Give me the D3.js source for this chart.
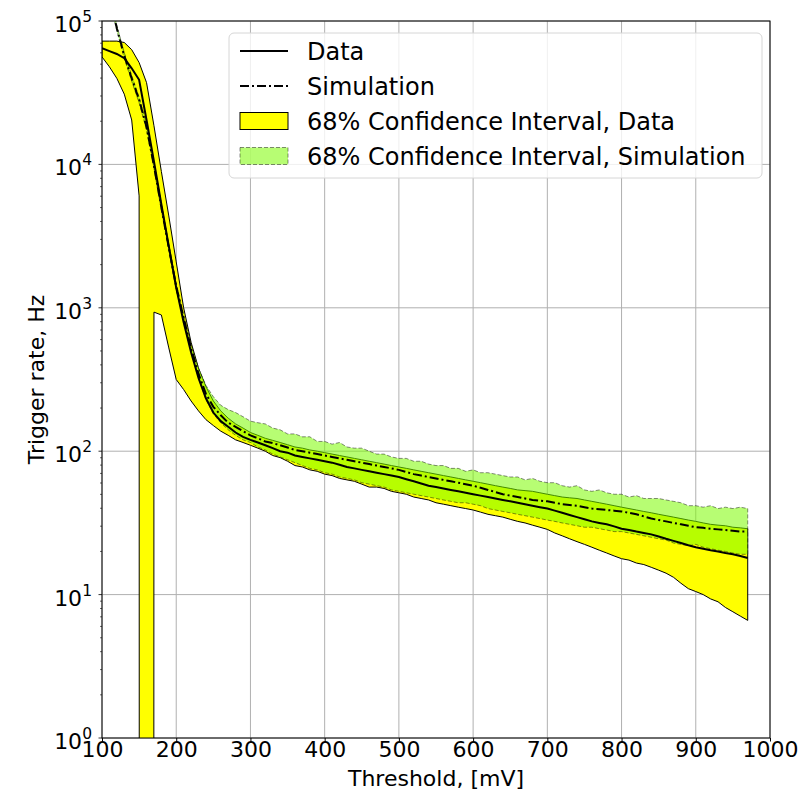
<!DOCTYPE html>
<html>
<head>
<meta charset="utf-8">
<script src="https://cdn.jsdelivr.net/npm/d3@7"></script>
<style>
  body { margin: 0; background: #fff; }
  svg text { font-family: "DejaVu Sans", sans-serif; fill: #000; }
</style>
</head>
<body>
<div id="chart"></div>
<script>
// threshold in mV
const thresholds = [
  100, 110, 120, 130, 140, 150, 160, 170, 180, 190,
  200, 210, 220, 230, 240, 250, 260, 270, 280, 290,
  300, 310, 320, 330, 340, 350, 360, 370, 380, 390,
  400, 410, 420, 430, 440, 450, 460, 470, 480, 490,
  500, 510, 520, 530, 540, 550, 560, 570, 580, 590,
  600, 610, 620, 630, 640, 650, 660, 670, 680, 690,
  700, 710, 720, 730, 740, 750, 760, 770, 780, 790,
  800, 810, 820, 830, 840, 850, 860, 870, 880, 890,
  900, 910, 920, 930, 940, 950, 960, 970
];

// trigger rate, Hz
const rateData = [
  64600, 61700, 58900, 55000, 46800, 38900, 20400, 10500, 5250, 2690,
  1380, 794, 490, 324, 234, 186, 162, 148, 135, 126,
  120, 115, 110, 105, 100, 97.7, 93.3, 91.2, 89.1, 87.1,
  85.1, 83.2, 80.4, 77.6, 75.9, 74.1, 72.4, 70.8, 69.2, 67.6,
  66.1, 63.8, 61.7, 59.6, 57.5, 56.2, 55.0, 53.7, 52.5, 51.3,
  50.1, 49.0, 47.9, 46.8, 45.7, 44.7, 43.7, 42.7, 41.7, 40.7,
  39.8, 38.5, 37.2, 35.9, 34.7, 33.5, 32.4, 31.6, 30.9, 29.9,
  28.8, 28.2, 27.5, 26.9, 26.3, 25.4, 24.5, 23.7, 22.9, 22.1,
  21.4, 20.9, 20.4, 20.0, 19.5, 19.1, 18.6, 18.0
];

const rateSim = [
  282000, 148000, 89100, 57500, 39800, 28200, 18200, 9770, 5010, 2630,
  1410, 851, 525, 347, 251, 204, 178, 158, 148, 138,
  129, 123, 117, 114, 110, 106, 102, 100, 97.7, 95.5,
  93.3, 91.2, 89.1, 87.1, 85.1, 83.2, 81.3, 79.4, 77.6, 75.9,
  74.1, 71.6, 69.2, 67.6, 66.1, 64.6, 63.1, 61.7, 60.3, 58.9,
  57.5, 55.6, 53.7, 51.9, 50.1, 49.0, 47.9, 46.8, 45.7, 45.2,
  44.7, 43.7, 42.7, 42.2, 41.7, 40.7, 39.8, 39.4, 38.9, 38.5,
  38.0, 37.2, 36.3, 35.1, 33.9, 33.1, 32.4, 31.6, 30.9, 30.2,
  29.5, 29.2, 28.8, 28.5, 28.2, 27.9, 27.5, 27.5
];

// 68% interval, data
const dataHigh = [
  72400, 72400, 72400, 70800, 63100, 51300, 37200, 18600, 8910, 4370,
  2090, 1000, 575, 380, 282, 224, 191, 170, 155, 145,
  135, 129, 123, 119, 115, 111, 107, 105, 102, 100,
  97.7, 95.5, 93.3, 91.2, 89.1, 87.1, 85.1, 83.2, 81.3, 79.4,
  77.6, 75.9, 74.1, 72.4, 70.8, 69.2, 67.6, 66.1, 64.6, 63.1,
  61.7, 60.3, 58.9, 57.5, 56.2, 55.0, 53.7, 53.1, 52.5, 51.3,
  50.1, 49.0, 47.9, 47.3, 46.8, 45.7, 44.7, 43.7, 42.7, 41.7,
  40.7, 39.8, 38.9, 38.0, 37.2, 36.3, 35.5, 34.7, 33.9, 33.1,
  32.4, 31.6, 30.9, 30.5, 30.2, 29.5, 29.2, 28.8
];

const dataLow = [
  56200, 47900, 39800, 30900, 20400, 6030, 0, 933, 891, 525,
  316, 269, 224, 191, 166, 151, 138, 129, 120, 115,
  110, 105, 100, 93.3, 90.2, 85.1, 79.4, 77.6, 74.1, 72.4,
  69.2, 67.6, 64.6, 63.1, 61.7, 58.9, 56.2, 56.2, 55.0, 52.5,
  51.3, 50.1, 47.9, 46.8, 45.7, 43.7, 42.7, 41.7, 40.7, 39.8,
  38.9, 37.6, 36.3, 35.5, 34.7, 33.5, 32.4, 31.6, 30.5, 29.5,
  28.5, 26.9, 25.7, 24.5, 23.4, 22.4, 21.4, 20.4, 19.5, 18.6,
  17.8, 17.4, 16.6, 16.2, 15.5, 14.8, 14.1, 13.2, 12.0, 11.0,
  10.5, 10.0, 9.33, 8.91, 8.13, 7.59, 7.08, 6.61
];

// 68% interval, simulation
const simHigh = [
  295000, 155000, 93300, 60200, 41700, 29500, 19100, 10200, 5250, 2750,
  1480, 891, 550, 380, 288, 240, 209, 195, 186, 174,
  162, 158, 155, 145, 141, 132, 132, 126, 126, 117,
  117, 112, 115, 107, 105, 105, 100, 95.5, 95.5, 91.2,
  89.1, 89.1, 85.1, 85.1, 81.3, 79.4, 79.4, 75.9, 75.9, 72.4,
  74.1, 70.8, 70.8, 69.2, 67.6, 66.1, 66.1, 63.1, 64.6, 61.7,
  60.3, 60.3, 57.5, 56.2, 57.5, 53.7, 52.5, 53.7, 51.3, 50.1,
  50.1, 47.9, 49.0, 46.8, 46.8, 46.8, 45.7, 44.7, 43.7, 41.7,
  41.7, 40.7, 41.7, 39.8, 40.7, 39.8, 40.7, 39.8
];

const simLow = [
  269000, 141000, 85100, 54900, 38000, 26900, 17400, 9330, 4790, 2510,
  1350, 813, 501, 324, 229, 182, 158, 141, 129, 120,
  115, 107, 102, 95.5, 91.2, 87.1, 83.2, 79.4, 75.9, 74.1,
  70.8, 69.2, 66.1, 64.6, 63.1, 60.3, 58.9, 57.5, 56.2, 53.7,
  52.5, 51.3, 50.1, 49.0, 47.9, 46.8, 45.7, 44.7, 43.7, 43.7,
  42.7, 41.7, 39.8, 38.9, 38.0, 37.2, 36.3, 35.5, 34.7, 33.9,
  33.1, 32.4, 31.6, 30.9, 30.2, 29.5, 29.5, 28.8, 28.2, 27.5,
  27.5, 26.9, 26.3, 25.7, 25.1, 24.5, 24.0, 22.9, 22.4, 21.9,
  22.4, 21.4, 20.9, 20.4, 20.0, 19.5, 19.1, 19.1
];

const xTicks = [100, 200, 300, 400, 500, 600, 700, 800, 900, 1000];
const yTicks = [1, 10, 100, 1000, 10000, 100000];

const legendItems = [
  {label: "Data", kind: "solid"},
  {label: "Simulation", kind: "dashdot"},
  {label: "68% Confidence Interval, Data", kind: "yellow"},
  {label: "68% Confidence Interval, Simulation", kind: "green"}
];

const W = 800, H = 800;
const margin = {top: 21, right: 30, bottom: 62, left: 102};
const width = W - margin.left - margin.right,
      height = H - margin.top - margin.bottom;

const svg = d3.select("#chart").append("svg")
  .attr("width", W).attr("height", H);

const g = svg.append("g")
  .attr("transform", "translate(" + margin.left + "," + margin.top + ")");

const x = d3.scaleLinear().domain([100, 1000]).range([0, width]);
const y = d3.scaleLog().domain([1, 100000]).range([height, 0]);

// values <= 0 are pushed far below the axis (like matplotlib's clip)
const yv = v => y(v > 0 ? v : 1e-200);

svg.append("defs").append("clipPath").attr("id", "plotclip")
  .append("rect").attr("width", width).attr("height", height);

// grid
g.append("g").selectAll("line").data(xTicks).join("line")
  .attr("x1", d => x(d)).attr("x2", d => x(d))
  .attr("y1", 0).attr("y2", height)
  .attr("stroke", "#b0b0b0").attr("stroke-width", 1);
g.append("g").selectAll("line").data(yTicks).join("line")
  .attr("x1", 0).attr("x2", width)
  .attr("y1", d => y(d)).attr("y2", d => y(d))
  .attr("stroke", "#b0b0b0").attr("stroke-width", 1);

const plot = g.append("g").attr("clip-path", "url(#plotclip)");

const rows = thresholds.map((t, i) => ({
  t: t, data: rateData[i], sim: rateSim[i],
  dHi: dataHigh[i], dLo: dataLow[i], sHi: simHigh[i], sLo: simLow[i]
}));

const areaData = d3.area()
  .x(d => x(d.t)).y0(d => yv(d.dLo)).y1(d => yv(d.dHi));
const areaSim = d3.area()
  .x(d => x(d.t)).y0(d => yv(d.sLo)).y1(d => yv(d.sHi));

plot.append("path").datum(rows)
  .attr("d", areaData)
  .attr("fill", "#ffff00")
  .attr("stroke", "#000").attr("stroke-width", 1).attr("stroke-linejoin", "round");

plot.append("path").datum(rows)
  .attr("d", areaSim)
  .attr("fill", "#7cfc00").attr("fill-opacity", 0.55)
  .attr("stroke", "#000").attr("stroke-opacity", 0.45)
  .attr("stroke-width", 1).attr("stroke-dasharray", "4,2");

const lineData = d3.line().x(d => x(d.t)).y(d => yv(d.data));
const lineSim = d3.line().x(d => x(d.t)).y(d => yv(d.sim));

plot.append("path").datum(rows)
  .attr("d", lineData)
  .attr("fill", "none").attr("stroke", "#000").attr("stroke-width", 2);

plot.append("path").datum(rows)
  .attr("d", lineSim)
  .attr("fill", "none").attr("stroke", "#000").attr("stroke-width", 2)
  .attr("stroke-dasharray", "9,3,2,3");

// axes
const xAxis = g.append("g")
  .attr("transform", "translate(0," + height + ")")
  .call(d3.axisBottom(x).tickValues(xTicks).tickSize(3.5).tickFormat(d3.format("d")));
xAxis.select(".domain").remove();
xAxis.selectAll("text")
  .attr("y", 19).attr("dy", 0)
  .style("font-size", "22px").style("font-family", "DejaVu Sans");

const minorTicks = [];
yTicks.slice(0, -1).forEach(p => {
  for (let k = 2; k <= 9; k++) minorTicks.push(p * k);
});

const yAxis = g.append("g");
yAxis.selectAll("line.major").data(yTicks).join("line")
  .attr("class", "major")
  .attr("x1", -3.5).attr("x2", 0)
  .attr("y1", d => y(d)).attr("y2", d => y(d))
  .attr("stroke", "#000").attr("stroke-width", 0.8);
yAxis.selectAll("line.minor").data(minorTicks).join("line")
  .attr("class", "minor")
  .attr("x1", -2).attr("x2", 0)
  .attr("y1", d => y(d)).attr("y2", d => y(d))
  .attr("stroke", "#000").attr("stroke-width", 0.6);

const yLab = yAxis.selectAll("text").data(yTicks).join("text")
  .attr("x", -10).attr("y", d => y(d) + 11)
  .attr("text-anchor", "end")
  .style("font-size", "22px");
yLab.append("tspan").text("10");
yLab.append("tspan").attr("dy", -10).style("font-size", "15.5px")
  .text(d => Math.round(Math.log10(d)));

// frame
g.append("rect")
  .attr("width", width).attr("height", height)
  .attr("fill", "none").attr("stroke", "#000").attr("stroke-width", 1);

// axis labels
svg.append("text")
  .attr("x", margin.left + width / 2).attr("y", 786)
  .attr("text-anchor", "middle").style("font-size", "22px")
  .text("Threshold, [mV]");

svg.append("text")
  .attr("transform", "translate(44," + (margin.top + height / 2) + ") rotate(-90)")
  .attr("text-anchor", "middle").style("font-size", "22px")
  .text("Trigger rate, Hz");

// legend
const leg = svg.append("g").attr("transform", "translate(229,33)");
leg.append("rect")
  .attr("width", 533).attr("height", 145).attr("rx", 5)
  .attr("fill", "#fff").attr("fill-opacity", 0.8)
  .attr("stroke", "#d6d6d6").attr("stroke-width", 1);

const li = leg.selectAll("g.item").data(legendItems).join("g")
  .attr("class", "item")
  .attr("transform", (d, i) => "translate(0," + (18 + i * 35) + ")");

li.each(function (d) {
  const s = d3.select(this);
  if (d.kind === "solid") {
    s.append("line").attr("x1", 11).attr("x2", 59).attr("y1", 0).attr("y2", 0)
      .attr("stroke", "#000").attr("stroke-width", 2);
  } else if (d.kind === "dashdot") {
    s.append("line").attr("x1", 11).attr("x2", 59).attr("y1", 0).attr("y2", 0)
      .attr("stroke", "#000").attr("stroke-width", 2).attr("stroke-dasharray", "9,3,2,3");
  } else if (d.kind === "yellow") {
    s.append("rect").attr("x", 11).attr("y", -8.5).attr("width", 48).attr("height", 17)
      .attr("fill", "#ffff00").attr("stroke", "#000").attr("stroke-width", 1);
  } else {
    s.append("rect").attr("x", 11).attr("y", -8.5).attr("width", 48).attr("height", 17)
      .attr("fill", "#7cfc00").attr("fill-opacity", 0.55)
      .attr("stroke", "#000").attr("stroke-opacity", 0.45)
      .attr("stroke-width", 1).attr("stroke-dasharray", "4,2");
  }
  s.append("text").attr("x", 78).attr("dy", "0.36em")
    .style("font-size", "24px").text(d.label);
});
</script>
</body>
</html>
